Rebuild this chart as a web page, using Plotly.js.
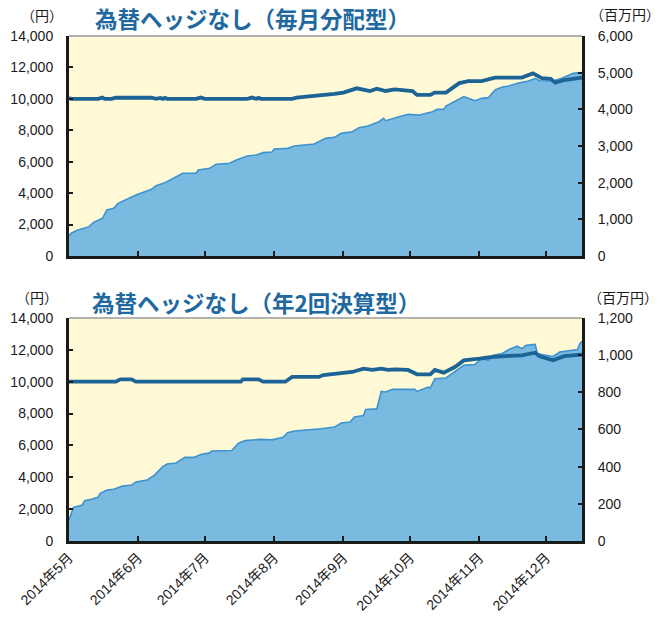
<!DOCTYPE html>
<html>
<head>
<meta charset="utf-8">
<script src="https://cdn.plot.ly/plotly-3.0.1.min.js"></script>
<style>
html,body{margin:0;padding:0;background:#fff;}
#chart{width:667px;height:619px;}
</style>
</head>
<body>
<div id="chart"></div>
<script>
// ---- Data ----
var monthTicks = ['2014-05-01','2014-06-01','2014-07-01','2014-08-01','2014-09-01','2014-10-01','2014-11-01','2014-12-01'];
var monthLabels = ['2014年5月','2014年6月','2014年7月','2014年8月','2014年9月','2014年10月','2014年11月','2014年12月'];
var navTicks = [0,2000,4000,6000,8000,10000,12000,14000];
var assetTicksTop = [0,1000,2000,3000,4000,5000,6000];
var assetTicksBottom = [0,200,400,600,800,1000,1200];

// 毎月分配型: 基準価額 (円)
var navTopDates = ['2014-05-01','2014-05-02','2014-05-14','2014-05-16','2014-05-17','2014-05-20','2014-05-22','2014-06-07','2014-06-09','2014-06-11','2014-06-12','2014-06-13','2014-06-14','2014-06-27','2014-06-29','2014-07-01','2014-07-20','2014-07-22','2014-07-24','2014-07-25','2014-07-26','2014-08-09','2014-08-11','2014-08-22','2014-08-28','2014-09-01','2014-09-07','2014-09-13','2014-09-16','2014-09-20','2014-09-24','2014-10-02','2014-10-04','2014-10-10','2014-10-12','2014-10-17','2014-10-23','2014-10-27','2014-11-02','2014-11-08','2014-11-20','2014-11-25','2014-11-29','2014-12-03','2014-12-05','2014-12-09','2014-12-17'];
var navTop = [10050,10000,10000,10080,10000,10000,10070,10070,10000,10060,10000,10060,10000,10000,10080,10000,10000,10080,10000,10060,10000,10000,10080,10200,10320,10400,10670,10500,10650,10500,10600,10500,10250,10250,10400,10400,11000,11130,11130,11350,11350,11620,11320,11270,11030,11200,11350];

// 毎月分配型: 純資産総額 (百万円)
var assetTopDates = ['2014-05-01','2014-05-02','2014-05-05','2014-05-10','2014-05-12','2014-05-16','2014-05-18','2014-05-21','2014-05-23','2014-05-31','2014-06-07','2014-06-09','2014-06-13','2014-06-16','2014-06-21','2014-06-27','2014-06-28','2014-07-03','2014-07-06','2014-07-12','2014-07-15','2014-07-20','2014-07-24','2014-07-27','2014-07-31','2014-08-01','2014-08-07','2014-08-10','2014-08-19','2014-08-21','2014-08-24','2014-08-28','2014-08-31','2014-09-05','2014-09-08','2014-09-12','2014-09-17','2014-09-19','2014-09-20','2014-09-26','2014-09-30','2014-10-05','2014-10-08','2014-10-11','2014-10-13','2014-10-16','2014-10-17','2014-10-20','2014-10-25','2014-10-27','2014-10-30','2014-11-02','2014-11-05','2014-11-08','2014-11-11','2014-11-14','2014-11-19','2014-11-23','2014-11-26','2014-11-28','2014-12-04','2014-12-08','2014-12-13','2014-12-17'];
var assetTop = [545,620,709,800,918,1027,1254,1300,1436,1663,1818,1918,2000,2100,2255,2255,2345,2390,2500,2527,2618,2727,2755,2818,2836,2918,2936,3000,3054,3120,3209,3236,3345,3390,3500,3545,3663,3754,3690,3800,3863,3845,3890,3936,4000,4000,4090,4180,4345,4300,4236,4300,4318,4527,4600,4636,4727,4772,4845,4781,4772,4845,4981,5000];

// 年2回決算型: 基準価額 (円)
var navBottomDates = ['2014-05-01','2014-05-22','2014-05-24','2014-05-29','2014-05-31','2014-07-17','2014-07-18','2014-07-25','2014-07-27','2014-08-06','2014-08-09','2014-08-21','2014-08-23','2014-08-28','2014-09-05','2014-09-10','2014-09-14','2014-09-18','2014-09-21','2014-09-24','2014-09-30','2014-10-04','2014-10-10','2014-10-12','2014-10-16','2014-10-21','2014-10-25','2014-11-01','2014-11-06','2014-11-14','2014-11-20','2014-11-26','2014-11-28','2014-12-04','2014-12-09','2014-12-17'];
var navBottom = [10000,10000,10150,10150,10000,10000,10150,10150,10000,10000,10300,10300,10420,10490,10610,10820,10740,10820,10740,10780,10740,10465,10465,10740,10570,10920,11340,11445,11550,11620,11655,11820,11600,11340,11600,11700];

// 年2回決算型: 純資産総額 (百万円)
var assetBottomDates = ['2014-05-01','2014-05-03','2014-05-07','2014-05-08','2014-05-11','2014-05-14','2014-05-15','2014-05-18','2014-05-21','2014-05-25','2014-05-29','2014-05-31','2014-06-05','2014-06-08','2014-06-12','2014-06-14','2014-06-18','2014-06-22','2014-06-26','2014-06-29','2014-07-03','2014-07-04','2014-07-13','2014-07-16','2014-07-19','2014-07-26','2014-07-31','2014-08-03','2014-08-05','2014-08-07','2014-08-10','2014-08-22','2014-08-28','2014-08-31','2014-09-04','2014-09-06','2014-09-10','2014-09-11','2014-09-16','2014-09-18','2014-09-20','2014-09-23','2014-10-03','2014-10-04','2014-10-09','2014-10-10','2014-10-12','2014-10-17','2014-10-21','2014-10-25','2014-10-30','2014-11-02','2014-11-05','2014-11-07','2014-11-11','2014-11-15','2014-11-18','2014-11-20','2014-11-22','2014-11-26','2014-11-27','2014-12-01','2014-12-04','2014-12-07','2014-12-15','2014-12-16','2014-12-17'];
var assetBottom = [113,181,194,217,225,235,257,274,278,296,301,317,328,351,400,414,420,450,450,466,474,484,487,526,540,547,544,550,558,583,592,604,613,635,640,667,675,708,711,805,802,816,816,805,828,823,873,877,909,945,950,981,972,999,1008,1035,1048,1035,1053,1058,1008,999,993,1017,1030,1062,1075];

// ---- Styles ----
var areaFill = '#7AB9E0', areaLine = '#3B93CF', navColor = '#1C6496';
var axisColor = '#1a1a1a';
var numFont = {family: 'Liberation Sans, Arial, "Noto Sans CJK JP", sans-serif', size: 14, color: '#1a1a1a'};
var endDate = '2014-12-17';

function areaTrace(x, y, xa, ya) {
  return {x: x, y: y, xaxis: xa, yaxis: ya, type: 'scatter', mode: 'lines', fill: 'tozeroy',
          fillcolor: areaFill, line: {color: areaLine, width: 1.6}, hoverinfo: 'skip'};
}
function navTrace(x, y, xa, ya) {
  return {x: x, y: y, xaxis: xa, yaxis: ya, type: 'scatter', mode: 'lines',
          line: {color: navColor, width: 3.8}, hoverinfo: 'skip'};
}

var data = [
  areaTrace(assetTopDates, assetTop, 'x', 'y'),
  navTrace(navTopDates, navTop, 'x', 'y2'),
  areaTrace(assetBottomDates, assetBottom, 'x2', 'y3'),
  navTrace(navBottomDates, navBottom, 'x2', 'y4')
];

function xAxis(anchor, showLabels) {
  return {anchor: anchor, domain: [0, 1], type: 'date', range: [monthTicks[0], endDate],
          tickmode: 'array', tickvals: monthTicks, ticktext: monthLabels, showticklabels: showLabels,
          tickangle: -45, ticks: 'inside', ticklen: 5, tickwidth: 2, tickcolor: axisColor,
          showline: true, linecolor: axisColor, linewidth: 3, showgrid: false, zeroline: false,
          tickfont: {family: 'Liberation Sans, Arial, "Noto Sans CJK JP", sans-serif', size: 14, color: '#1a1a1a'},
          fixedrange: true};
}
function yAxis(opts) {
  var base = {ticks: 'inside', ticklen: 4, tickwidth: 2, tickcolor: axisColor,
              showline: true, linecolor: axisColor, linewidth: 3, showgrid: false, zeroline: false,
              tickmode: 'array', tickformat: ',d', tickfont: numFont, ticklabelstandoff: 10, fixedrange: true};
  for (var k in opts) base[k] = opts[k];
  return base;
}

var labelFont = {family: '"Noto Sans CJK JP", sans-serif', size: 14, color: '#1a1a1a'};
var titleFont = {family: '"Noto Sans CJK JP", sans-serif', size: 22.5, color: '#2068A0', weight: 'bold'};

var layout = {
  width: 667, height: 619,
  margin: {l: 69, r: 85, t: 36, b: 78, pad: 0},
  paper_bgcolor: '#ffffff', plot_bgcolor: '#FFF9D6',
  showlegend: false,
  xaxis: xAxis('y', false),
  xaxis2: xAxis('y3', true),
  yaxis: yAxis({domain: [0.5644, 1], side: 'right', anchor: 'x', range: [0, 6000], tickvals: assetTicksTop}),
  yaxis2: yAxis({overlaying: 'y', side: 'left', anchor: 'x', range: [0, 14000], tickvals: navTicks}),
  yaxis3: yAxis({domain: [0, 0.4416], side: 'right', anchor: 'x2', range: [0, 1200], tickvals: assetTicksBottom}),
  yaxis4: yAxis({overlaying: 'y3', side: 'left', anchor: 'x2', range: [0, 14000], tickvals: navTicks}),
  shapes: [
    {type: 'line', xref: 'x domain', yref: 'y domain', x0: 0, x1: 1, y0: 1, y1: 1, line: {color: '#9a9a9a', width: 1.5}},
    {type: 'line', xref: 'x2 domain', yref: 'y3 domain', x0: 0, x1: 1, y0: 1, y1: 1, line: {color: '#9a9a9a', width: 1.5}}
  ],
  annotations: [
    {xref: 'paper', yref: 'paper', x: 0.047, y: 1.0356, xanchor: 'left', yanchor: 'middle', showarrow: false,
     text: '為替ヘッジなし（毎月分配型）', font: titleFont},
    {xref: 'paper', yref: 'paper', x: 0.04, y: 0.4733, xanchor: 'left', yanchor: 'middle', showarrow: false,
     text: '為替ヘッジなし（年2回決算型）', font: titleFont},
    {xref: 'paper', yref: 'paper', x: -0.098, y: 1.0416, xanchor: 'left', yanchor: 'middle', showarrow: false,
     text: '（円）', font: labelFont},
    {xref: 'paper', yref: 'paper', x: -0.108, y: 0.4832, xanchor: 'left', yanchor: 'middle', showarrow: false,
     text: '（円）', font: labelFont},
    {xref: 'paper', yref: 'paper', x: 1.012, y: 1.0436, xanchor: 'left', yanchor: 'middle', showarrow: false,
     text: '（百万円）', font: labelFont},
    {xref: 'paper', yref: 'paper', x: 1.008, y: 0.4832, xanchor: 'left', yanchor: 'middle', showarrow: false,
     text: '（百万円）', font: labelFont}
  ]
};

Plotly.newPlot('chart', data, layout, {displayModeBar: false, staticPlot: true});
</script>
</body>
</html>
